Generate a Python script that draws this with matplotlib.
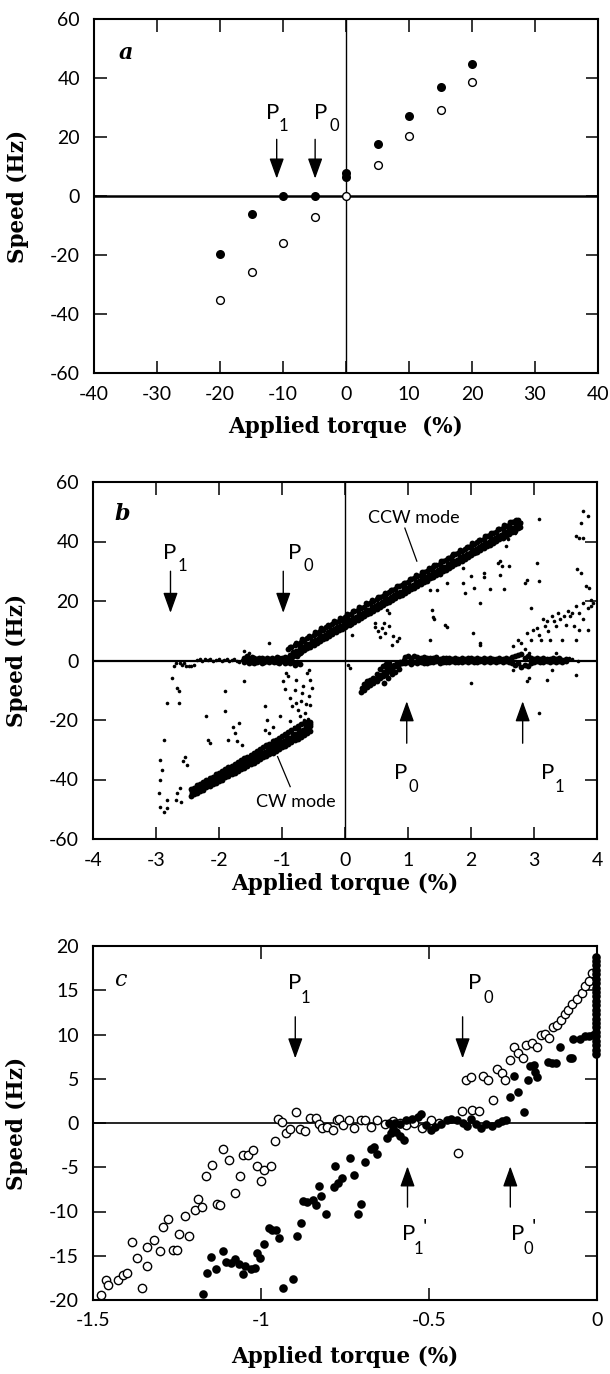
import matplotlib
matplotlib.use('Agg')
import matplotlib.pyplot as plt

plt.rcParams['axes.unicode_minus'] = False

# ---------------- Panel a data ----------------
a_x_filled = [-20, -15, -10, -5, 0, 0, 5, 10, 15, 20]
a_y_filled = [-19.7, -6.2, 0.0, 0.0, 6.3, 7.9, 17.5, 27.2, 37.0, 44.8]
a_x_open = [-20, -15, -10, -5, 0, 5, 10, 15, 20]
a_y_open = [-35.3, -25.6, -15.8, -7.0, 0.0, 10.5, 20.3, 29.1, 38.8]
a_xticks = [-40, -30, -20, -10, 0, 10, 20, 30, 40]
a_yticks = [-60, -40, -20, 0, 20, 40, 60]

# ---------------- Panel b data ----------------
ccw_x = [-0.90, -0.85, -0.80, -0.75, -0.70, -0.65, -0.60, -0.55, -0.50, -0.45,
         -0.40, -0.35, -0.30, -0.25, -0.20, -0.15, -0.10, -0.05, 0.00, 0.05,
         0.10, 0.15, 0.20, 0.25, 0.30, 0.35, 0.40, 0.45, 0.50, 0.55,
         0.60, 0.65, 0.70, 0.75, 0.80, 0.85, 0.90, 0.95, 1.00, 1.05,
         1.10, 1.15, 1.20, 1.25, 1.30, 1.35, 1.40, 1.45, 1.50, 1.55,
         1.60, 1.65, 1.70, 1.75, 1.80, 1.85, 1.90, 1.95, 2.00, 2.05,
         2.10, 2.15, 2.20, 2.25, 2.30, 2.35, 2.40, 2.45, 2.50, 2.55,
         2.60, 2.65, 2.70, 2.75]
ccw_x2 = [-0.88, -0.83, -0.77, -0.72, -0.68, -0.62, -0.57, -0.53, -0.47, -0.42,
          -0.38, -0.32, -0.27, -0.23, -0.17, -0.12, -0.08, -0.02, 0.03, 0.07,
          0.13, 0.18, 0.22, 0.28, 0.33, 0.37, 0.43, 0.48, 0.52, 0.58,
          0.63, 0.67, 0.73, 0.78, 0.82, 0.88, 0.93, 0.97, 1.03, 1.08,
          1.12, 1.18, 1.23, 1.27, 1.33, 1.38, 1.42, 1.48, 1.53, 1.57,
          1.63, 1.68, 1.72, 1.78, 1.83, 1.87, 1.93, 1.98, 2.02, 2.08,
          2.13, 2.17, 2.23, 2.28, 2.32, 2.38, 2.43, 2.47, 2.53, 2.58,
          2.62, 2.67, 2.72, 2.77]
ccw_hi = [3.8, 4.5, 5.1, 5.5, 6.3, 6.8, 7.5, 8.0, 8.7, 9.1,
          9.9, 10.3, 11.1, 11.5, 12.3, 12.8, 13.4, 14.1, 14.6, 15.3,
          15.7, 16.5, 17.0, 17.7, 18.1, 18.9, 19.4, 20.1, 20.6, 21.3,
          21.7, 22.5, 23.0, 23.7, 24.1, 24.9, 25.4, 26.1, 26.5, 27.3,
          27.8, 28.5, 28.9, 29.7, 30.2, 30.9, 31.3, 32.1, 32.6, 33.3,
          33.7, 34.5, 35.0, 35.7, 36.1, 36.9, 37.4, 38.1, 38.5, 39.3,
          39.8, 40.5, 40.9, 41.7, 42.2, 42.9, 43.3, 44.1, 44.6, 45.3,
          45.7, 46.5, 47.0, 47.3]
ccw_mid = [2.0, 2.9, 3.3, 4.2, 4.5, 5.4, 5.7, 6.6, 7.0, 7.5,
           8.3, 8.7, 9.5, 10.1, 10.5, 11.3, 11.7, 12.5, 13.0, 13.5,
           14.3, 14.7, 15.5, 15.9, 16.7, 17.1, 17.9, 18.3, 19.1, 19.5,
           20.3, 20.7, 21.5, 21.9, 22.7, 23.1, 23.9, 24.3, 25.1, 25.5,
           26.3, 26.7, 27.5, 27.9, 28.7, 29.1, 29.9, 30.3, 31.1, 31.5,
           32.3, 32.7, 33.5, 33.9, 34.7, 35.1, 35.9, 36.3, 37.1, 37.5,
           38.3, 38.7, 39.5, 39.9, 40.7, 41.1, 41.9, 42.3, 43.1, 43.5,
           44.3, 44.7, 45.5, 46.1]
ccw_lo = [0.6, 1.2, 1.8, 2.3, 3.0, 3.5, 4.1, 4.7, 5.3, 6.0,
          6.4, 7.2, 7.7, 8.4, 8.9, 9.5, 10.2, 10.6, 11.3, 11.9,
          12.4, 13.1, 13.7, 14.4, 14.8, 15.6, 16.1, 16.8, 17.2, 18.0,
          18.5, 19.2, 19.6, 20.4, 20.9, 21.6, 22.0, 22.8, 23.3, 24.0,
          24.4, 25.2, 25.7, 26.4, 26.8, 27.6, 28.1, 28.8, 29.2, 30.0,
          30.5, 31.2, 31.6, 32.4, 32.9, 33.6, 34.0, 34.8, 35.3, 36.0,
          36.4, 37.2, 37.7, 38.4, 38.8, 39.6, 40.1, 40.8, 41.2, 42.0,
          42.5, 43.2, 43.6, 44.6]
ccw_edge = [4.6, 1.9, 5.9, 2.9, 7.2, 4.2, 8.4, 5.6, 9.6, 6.6,
            10.8, 7.9, 12.0, 9.1, 13.2, 10.3, 14.4, 11.4, 15.6, 12.6,
            16.8, 13.8, 18.0, 14.9, 19.2, 16.1, 20.4, 17.4, 21.5, 18.6,
            22.6, 19.8, 23.8, 21.0, 25.0, 22.3, 26.2, 23.4, 27.4, 24.6,
            28.6, 25.8, 29.8, 27.0, 31.0, 28.2, 32.2, 29.4, 33.4, 30.6,
            34.6, 31.8, 35.8, 33.0, 37.0, 34.2, 38.2, 35.4, 39.4, 36.6,
            40.6, 37.8, 41.8, 39.0, 43.0, 40.2, 44.2, 41.4, 45.4, 42.6,
            46.4, 43.8, 47.2, 45.0]

cw_x = [-2.45, -2.40, -2.35, -2.30, -2.25, -2.20, -2.15, -2.10, -2.05, -2.00,
        -1.95, -1.90, -1.85, -1.80, -1.75, -1.70, -1.65, -1.60, -1.55, -1.50,
        -1.45, -1.40, -1.35, -1.30, -1.25, -1.20, -1.15, -1.10, -1.05, -1.00,
        -0.95, -0.90, -0.85, -0.80, -0.75, -0.70, -0.65, -0.60, -0.55]
cw_x2 = [-2.43, -2.38, -2.32, -2.27, -2.23, -2.17, -2.12, -2.08, -2.02, -1.97,
         -1.93, -1.87, -1.82, -1.78, -1.72, -1.67, -1.63, -1.57, -1.52, -1.48,
         -1.42, -1.37, -1.33, -1.27, -1.22, -1.18, -1.12, -1.07, -1.03, -0.97,
         -0.92, -0.88, -0.82, -0.77, -0.73, -0.67, -0.62, -0.58, -0.56]
cw_hi = [-43.3, -42.8, -42.0, -41.4, -40.8, -40.3, -39.6, -39.0, -38.3, -37.8,
         -37.0, -36.5, -35.9, -35.4, -34.7, -34.2, -33.5, -32.9, -32.3, -31.7,
         -31.0, -30.4, -29.8, -29.2, -28.5, -27.9, -27.2, -26.6, -26.0, -25.3,
         -24.7, -24.0, -23.4, -22.7, -22.1, -21.5, -20.9, -20.6, -20.8]
cw_mid = [-44.5, -43.7, -43.4, -42.5, -42.2, -41.3, -41.0, -40.1, -39.8, -38.9,
          -38.6, -37.7, -37.5, -36.6, -36.3, -35.4, -35.1, -34.2, -33.9, -33.0,
          -32.7, -31.8, -31.5, -30.6, -30.3, -29.4, -29.1, -28.3, -28.0, -27.1,
          -26.8, -25.9, -25.6, -24.7, -24.4, -23.5, -23.2, -22.3, -22.0]
cw_lo = [-45.4, -44.8, -44.5, -43.8, -43.4, -42.6, -42.3, -41.6, -41.1, -40.4,
         -40.0, -39.3, -38.9, -38.2, -37.8, -37.1, -36.6, -36.0, -35.5, -34.8,
         -34.4, -33.7, -33.2, -32.5, -32.1, -31.4, -31.0, -30.3, -29.8, -29.1,
         -28.7, -28.0, -27.5, -26.8, -26.4, -25.7, -25.2, -24.5, -23.8]
cw_edge = [-44.0, -44.2, -42.7, -43.1, -41.5, -42.0, -40.2, -40.8, -39.1, -39.6,
           -37.8, -38.4, -36.7, -37.2, -35.5, -36.0, -34.3, -34.9, -33.1, -33.7,
           -31.9, -32.5, -30.6, -31.3, -29.4, -30.2, -28.2, -29.0, -27.0, -27.9,
           -25.8, -26.7, -24.6, -25.6, -23.3, -24.4, -22.2, -23.3, -21.5]

lzero_sparse_x = [-2.62, -2.58, -2.55, -2.52, -2.48, -2.45, -2.40, -2.35, -2.30, -2.27,
                  -2.22, -2.18, -2.14, -2.10, -2.05, -2.00, -1.96, -1.92, -1.88, -1.84,
                  -1.80, -1.76, -1.72, -1.68, -1.64]
lzero_sparse_y = [-1.0, -1.6, -0.8, -1.8, -1.7, -1.9, -1.5, 0.2, 0.4, -0.3,
                  0.5, 0.1, 0.6, -0.2, 0.3, 0.5, -0.1, 0.3, 0.4, -0.3,
                  0.2, 0.6, 0.0, -0.4, 0.3]
lzero_x = [-1.60, -1.56, -1.52, -1.48, -1.44, -1.40, -1.36, -1.32, -1.28, -1.24,
           -1.20, -1.16, -1.12, -1.08, -1.04, -1.00, -0.96, -0.92, -0.88, -0.84,
           -0.80, -0.76, -0.72]
lzero_hi = [0.9, 1.5, 0.6, 1.2, 0.8, 0.5, 1.0, 0.7, 0.4, 0.9,
            0.6, 0.8, 0.5, 1.1, 0.7, 0.9, 1.3, 1.0, 1.6, 1.2,
            2.0, 1.5, 2.4]
lzero_lo = [-0.6, -0.3, -0.9, -0.4, -0.7, -0.5, -0.2, -0.8, -0.4, -0.3,
            -0.6, -0.2, -0.5, -0.4, -0.7, -0.3, -0.8, -0.5, -1.0, -0.6,
            -1.4, -0.9, -1.2]

rbranch_x = [0.25, 0.27, 0.30, 0.32, 0.35, 0.37, 0.40, 0.42, 0.45, 0.47,
             0.50, 0.52, 0.55, 0.57, 0.60, 0.62, 0.65, 0.67, 0.70, 0.72,
             0.75, 0.77, 0.80, 0.82, 0.85, 0.87, 0.90, 0.93, 0.60, 0.65,
             0.70, 0.55, 0.50, 0.45, 0.40, 0.35, 0.30, 0.62, 0.68, 0.75,
             0.80, 0.85]
rbranch_y = [-10.5, -9.2, -10.0, -8.8, -9.0, -7.8, -8.3, -7.0, -7.5, -6.2,
             -6.8, -5.5, -6.0, -4.8, -5.2, -3.9, -4.4, -3.0, -3.6, -2.2,
             -2.8, -1.5, -2.0, -0.9, -1.3, -0.4, -0.8, 0.1, -1.8, -1.2,
             -0.8, -3.0, -4.5, -5.8, -6.5, -7.0, -8.0, -7.5, -6.0, -4.5,
             -3.8, -3.0]

rzero_x = [0.95, 1.00, 1.05, 1.10, 1.15, 1.20, 1.25, 1.30, 1.35, 1.40,
           1.45, 1.50, 1.55, 1.60, 1.65, 1.70, 1.75, 1.80, 1.85, 1.90,
           1.95, 2.00, 2.05, 2.10, 2.15, 2.20, 2.25, 2.30, 2.35, 2.40,
           2.45, 2.50, 2.55, 2.60, 2.65, 2.70, 2.75, 2.80, 2.85, 2.90,
           2.95, 3.00, 3.05, 3.10, 3.15, 3.20, 3.25, 3.30, 3.35, 3.40,
           3.45, 3.50]
rzero_hi = [1.2, 1.6, 0.9, 1.4, 1.1, 0.8, 1.3, 0.7, 1.0, 0.9,
            1.2, 0.6, 0.9, 0.7, 1.0, 0.5, 0.8, 0.6, 0.9, 0.5,
            0.7, 0.8, 0.4, 0.7, 0.6, 0.8, 0.5, 0.7, 0.4, 0.6,
            0.8, 0.5, 0.7, 0.6, 1.2, 1.5, 1.8, 2.2, 1.0, 1.4,
            0.9, 0.6, 0.8, 0.5, 0.7, 0.6, 0.4, 0.8, 0.5, 0.7,
            0.3, 0.6]
rzero_lo = [-0.8, -0.4, -1.1, -0.6, -0.9, -0.5, -0.7, -0.8, -0.4, -0.6,
            -0.3, -0.7, -0.5, -0.4, -0.6, -0.3, -0.5, -0.4, -0.6, -0.2,
            -0.5, -0.3, -0.4, -0.6, -0.2, -0.4, -0.3, -0.5, -0.2, -0.4,
            -0.3, -0.5, -0.2, -0.6, -1.0, -1.4, -0.8, -2.2, -1.5, -1.8,
            -0.9, -0.5, -0.3, -0.6, -0.4, -0.2, -0.5, -0.3, -0.6, -0.2,
            -0.4, -0.3]

bscat_left_x = [-2.88, -2.93, -2.91, -2.94, -2.95, -2.94, -2.88, -2.82, -2.83, -2.75,
                -2.83, -2.66, -2.63, -2.64, -2.69, -2.72, -2.54, -2.51, -2.57, -2.66,
                -2.62, -2.69, -2.60, -2.20, -2.17, -2.14, -1.90, -1.90, -1.86, -1.77,
                -1.74, -1.71, -1.64, -1.69, -1.61, -1.27, -1.24, -1.27, -1.21, -1.15,
                -1.03, -0.93, -0.90, -0.87, -0.84, -0.78, -0.75, -0.72, -0.69, -0.66,
                -0.60, -0.57, -0.53, -0.57, -0.63, -0.81, -0.87, -0.93, -1.15, -0.78,
                -1.21, -1.61, -1.52, -0.98, -0.95, -0.62, -0.65, -0.70, -0.80, -0.55,
                -0.56, -0.58]
bscat_left_y = [-26.7, -33.4, -36.8, -40.1, -44.6, -49.1, -50.8, -49.7, -46.9, -5.9,
                -14.3, -9.3, -10.4, -14.3, -0.8, -2.0, -32.3, -35.1, -33.9, -44.6,
                -42.9, -46.9, -47.4, -18.8, -26.7, -27.8, -10.4, -17.1, -26.7, -22.2,
                -24.4, -27.2, -28.4, -21.0, -7.0, -15.4, -19.9, -23.3, -24.4, -26.7,
                -18.8, -4.2, -5.3, -12.6, -15.4, -14.3, -16.6, -18.8, -10.9, -8.7,
                -4.2, -3.1, -9.3, -12.0, -17.7, -22.2, -20.5, -26.1, -22.2, -6.5,
                5.9, 3.1, 2.5, -7.0, -9.5, -14.5, -20.0, -13.5, -10.0, -6.5,
                -15.0, -19.5]
bscat_right_x = [0.08, 0.11, 0.48, 0.52, 0.58, 0.64, 0.70, 0.76, 0.82, 0.67,
                 0.70, 1.38, 1.41, 1.35, 1.59, 1.87, 1.90, 2.00, 2.15, 2.03,
                 2.15, 2.21, 2.30, 2.43, 2.49, 2.46, 2.55, 2.58, 2.61, 2.52,
                 2.86, 2.89, 3.08, 3.04, 3.08, 2.95, 3.04, 3.78, 3.85, 3.75,
                 3.66, 3.72, 3.78, 3.69, 3.75, 3.82, 3.88, 3.91, 3.85, 3.78,
                 3.60, 3.45, 2.67, 2.74, 2.80, 2.86, 2.89, 2.95, 2.98, 3.08,
                 3.11, 3.17, 3.20, 3.23, 3.29, 3.32, 3.35, 3.38, 3.42, 3.48,
                 3.51, 3.54, 3.57, 3.63, 3.66, 3.72, 3.78, 3.85, 3.91, 3.94,
                 3.66, 3.72, 3.26, 3.35, 2.92, 3.14, 2.00, 2.67, 2.89, 2.92,
                 3.08, 3.20, 3.66, 3.29, 0.05, 0.08, 2.80, 2.70, 3.60, 3.70,
                 3.55, 1.35, 1.46, 1.62, 1.88, 2.04, 2.20, 2.46, 1.40, 1.62,
                 2.14, 0.48, 0.55, 0.62, 0.75, 0.85]
bscat_right_y = [11.5, 8.7, 12.6, 9.8, 10.9, 9.3, 11.5, 8.1, 6.5, 17.1,
                 16.0, 17.1, 13.8, 7.0, 12.1, 26.1, 22.7, 28.3, 19.4, 9.3,
                 5.9, 29.5, 23.9, 32.8, 31.7, 28.9, 38.4, 40.7, 31.7, 23.9,
                 26.1, 27.2, 47.4, 32.8, 26.7, 17.7, 11.0, 50.2, 48.5, 46.3,
                 41.8, 41.2, 41.2, 30.6, 29.5, 25.0, 24.4, 18.2, 10.4, 13.8,
                 16.0, 7.0, 4.8, 7.0, 5.9, 3.7, 9.3, 7.0, 10.4, 8.7,
                 7.0, 11.5, 13.2, 9.8, 14.9, 13.2, 11.5, 16.0, 13.8, 14.9,
                 12.1, 16.6, 14.9, 11.5, 18.2, 16.0, 19.4, 17.7, 20.5, 19.4,
                 7.0, 10.4, 7.0, 2.5, 2.5, 13.8, -7.6, -3.1, -7.0, -5.9,
                 -17.7, -6.5, -4.8, -3.1, -1.4, -2.5, 46.5, 43.0, 0.5, -0.3,
                 1.0, 23.7, 23.7, 26.0, 31.0, 24.5, 28.0, 33.5, 14.6, 11.3,
                 5.2, 11.3, 8.0, 12.5, 5.2, 7.5]
b_xticks = [-4, -3, -2, -1, 0, 1, 2, 3, 4]
b_yticks = [-60, -40, -20, 0, 20, 40, 60]

# ---------------- Panel c data ----------------
c_open_x = [-1.475, -1.46, -1.454, -1.425, -1.41, -1.398, -1.384, -1.37, -1.355, -1.34,
            -1.338, -1.317, -1.30, -1.292, -1.278, -1.263, -1.249, -1.243, -1.225, -1.213,
            -1.195, -1.187, -1.176, -1.164, -1.147, -1.132, -1.121, -1.114, -1.095, -1.077,
            -1.063, -1.054, -1.04, -1.025, -1.011, -1.00, -0.99, -0.971, -0.958, -0.95,
            -0.938, -0.927, -0.913, -0.895, -0.883, -0.869, -0.855, -0.837, -0.828, -0.819,
            -0.805, -0.787, -0.775, -0.768, -0.755, -0.738, -0.722, -0.701, -0.689, -0.672,
            -0.654, -0.631, -0.608, -0.585, -0.568, -0.544, -0.521, -0.495, -0.469, -0.414,
            -0.402, -0.39, -0.374, -0.371, -0.351, -0.338, -0.324, -0.311, -0.299, -0.284,
            -0.275, -0.258, -0.247, -0.235, -0.22, -0.211, -0.193, -0.18, -0.168, -0.154,
            -0.142, -0.131, -0.118, -0.108, -0.096, -0.085, -0.073, -0.061, -0.046, -0.035,
            -0.023, -0.014]
c_open_y = [-19.4, -17.7, -18.3, -17.7, -17.2, -17.0, -13.4, -15.3, -18.7, -16.2,
            -14.0, -13.2, -14.5, -11.7, -10.8, -14.3, -14.4, -12.5, -10.5, -12.8,
            -9.8, -8.6, -9.5, -6.0, -4.8, -9.2, -9.3, -2.9, -4.2, -7.9,
            -6.0, -3.6, -3.6, -3.0, -4.9, -6.5, -5.3, -4.9, -2.0, 0.4,
            0.1, -1.1, -0.7, 1.2, -0.7, -0.9, 0.6, 0.6, -0.1, -0.6,
            -0.4, -0.8, 0.3, 0.4, -0.2, 0.3, -0.6, 0.3, 0.3, -0.4,
            0.3, -0.1, 0.2, 0.0, -0.2, 0.0, -0.6, 0.3, 0.0, -3.4,
            1.4, 4.9, 5.2, 1.5, 1.3, 5.3, 4.9, 2.6, 6.1, 5.6,
            4.9, 7.1, 8.6, 7.9, 7.4, 8.8, 9.0, 8.6, 9.9, 10.1,
            9.6, 10.8, 11.1, 11.6, 12.3, 12.8, 13.4, 14.0, 14.7, 15.5,
            16.0, 16.9]
c_fill_x = [-1.173, -1.16, -1.149, -1.133, -1.112, -1.103, -1.089, -1.077, -1.066, -1.054,
            -1.048, -1.031, -1.019, -1.013, -1.004, -0.99, -0.975, -0.967, -0.956, -0.946,
            -0.935, -0.906, -0.892, -0.88, -0.875, -0.863, -0.846, -0.837, -0.828, -0.822,
            -0.807, -0.784, -0.78, -0.77, -0.759, -0.736, -0.724, -0.712, -0.701, -0.689,
            -0.672, -0.664, -0.654, -0.626, -0.614, -0.606, -0.597, -0.585, -0.573, -0.62,
            -0.602, -0.585, -0.568, -0.55, -0.533, -0.525, -0.51, -0.495, -0.481, -0.463,
            -0.446, -0.434, -0.417, -0.40, -0.388, -0.374, -0.359, -0.344, -0.33, -0.313,
            -0.295, -0.284, -0.272, -0.218, -0.258, -0.234, -0.247, -0.206, -0.20, -0.185,
            -0.18, -0.188, -0.145, -0.133, -0.122, -0.11, -0.081, -0.075, -0.07, -0.052,
            -0.035, -0.023, -0.012]
c_fill_y = [-19.3, -17.0, -15.1, -16.5, -14.5, -15.7, -15.8, -15.4, -15.9, -17.1,
            -16.2, -16.5, -16.4, -14.7, -15.3, -13.7, -11.9, -12.1, -12.1, -13.0,
            -18.7, -17.6, -12.8, -11.3, -8.8, -8.9, -8.7, -9.3, -7.1, -8.2,
            -10.3, -7.2, -4.9, -6.8, -6.2, -4.0, -5.9, -10.3, -9.2, -4.4,
            -2.9, -2.7, -3.5, -1.7, -1.1, -0.7, -1.0, -1.5, -1.9, 0.0,
            0.0, -0.1, 0.3, 0.5, 0.7, 1.0, -0.2, -0.8, -0.5, -0.1,
            0.3, 0.5, 0.3, 0.0, -0.3, 0.4, -0.1, -0.6, -0.1, -0.3,
            0.0, 0.2, 0.3, 1.2, 2.9, 3.5, 5.3, 4.9, 6.4, 5.8,
            5.2, 6.5, 6.9, 6.8, 6.8, 8.6, 7.3, 7.3, 9.5, 9.5,
            9.8, 9.8, 9.9]
c_stack_x = [-0.003, -0.003, -0.003, -0.003, -0.003, -0.003, -0.003, -0.003, -0.003, -0.003,
             -0.003, -0.003, -0.003, -0.003, -0.003, -0.003, -0.003, -0.003, -0.003, -0.003,
             -0.003, -0.003, -0.003]
c_stack_y = [7.8, 8.3, 8.8, 9.3, 9.8, 10.3, 10.8, 11.3, 11.8, 12.3,
             12.8, 13.3, 13.8, 14.3, 14.8, 15.3, 15.8, 16.3, 16.8, 17.3,
             17.8, 18.3, 18.8]
c_xticks = [-1.5, -1.0, -0.5, 0.0]
c_xticklabels = ['-1.5', '-1', '-0.5', '0']
c_yticks = [-20, -15, -10, -5, 0, 5, 10, 15, 20]

# ---------------- Styling ----------------
TICKFONT = 'Lato'
SERIF = 'DejaVu Serif'
W, H = 610, 1374

fig = plt.figure(figsize=(W / 100, H / 100), dpi=100)
ax_a = fig.add_axes([94 / W, 1 - 373 / H, 504 / W, 354 / H])
ax_b = fig.add_axes([93 / W, 1 - 839 / H, 504 / W, 357 / H])
ax_c = fig.add_axes([93 / W, 1 - 1300 / H, 504 / W, 354 / H])


def style(ax, xlim, ylim, xticks, yticks, xlabel, xlab_y, xticklabels=None):
    ax.set_xlim(xlim)
    ax.set_ylim(ylim)
    ax.set_xticks(xticks)
    ax.set_yticks(yticks)
    if xticklabels is not None:
        ax.set_xticklabels(xticklabels)
    ax.tick_params(direction='in', length=9, width=1.1, top=True, right=True,
                   labelsize=14, colors='black')
    ax.tick_params(axis='x', pad=9)
    ax.tick_params(axis='y', pad=10)
    for lab in ax.get_xticklabels() + ax.get_yticklabels():
        lab.set_fontfamily(TICKFONT)
    for s in ax.spines.values():
        s.set_linewidth(1.5)
    ax.set_xlabel(xlabel, fontfamily=SERIF, fontweight='bold', fontsize=15.5)
    ax.set_ylabel('Speed (Hz)', fontfamily=SERIF, fontweight='bold', fontsize=15.5)
    ax.xaxis.set_label_coords(0.5, xlab_y)
    ax.yaxis.set_label_coords(-0.128, 0.5)


def arrow(ax, x, y_tail, y_tip):
    ax.annotate('', xy=(x, y_tip), xytext=(x, y_tail),
                arrowprops=dict(arrowstyle='-|>,head_length=1.25,head_width=0.45',
                                color='black', lw=1.0, shrinkA=0, shrinkB=0,
                                mutation_scale=10))


def plabel(ax, xp, yp, xs, ys, sub, prime=None):
    ax.text(xp, yp, 'P', fontfamily=TICKFONT, fontsize=16, ha='center', va='center')
    ax.text(xs, ys, sub, fontfamily=TICKFONT, fontsize=12, ha='center', va='center')
    if prime is not None:
        ax.text(prime[0], prime[1], "'", fontfamily=TICKFONT, fontsize=15,
                ha='center', va='center')


# ---- Panel a ----
ax = ax_a
style(ax, (-40, 40), (-60, 60), a_xticks, a_yticks, 'Applied torque  (%)', -0.12)
ax.axhline(0, color='black', lw=1.8, zorder=1)
ax.axvline(0, color='black', lw=1.0, zorder=1)
ax.plot(a_x_filled, a_y_filled, 'o', color='black', ms=6.5, mew=0, zorder=3)
ax.plot(a_x_open, a_y_open, 'o', mfc='white', mec='black', ms=5.6, mew=1.0, zorder=2)
ax.text(-35, 48.5, 'a', fontfamily=SERIF, fontweight='bold', fontstyle='italic',
        fontsize=16, ha='center', va='center')
arrow(ax, -11.0, 19.2, 5.9)
arrow(ax, -4.9, 19.2, 5.9)
plabel(ax, -11.6, 28.2, -9.9, 23.7, '1')
plabel(ax, -4.05, 28.2, -1.9, 23.7, '0')

# ---- Panel b ----
ax = ax_b
style(ax, (-4, 4), (-60, 60), b_xticks, b_yticks, 'Applied torque (%)', -0.095)
ax.axhline(0, color='black', lw=1.6, zorder=1)
ax.axvline(0, color='black', lw=1.0, zorder=1)
band = dict(marker='o', linestyle='none', color='black', ms=4.2, mew=0, zorder=2)
dot = dict(marker='o', linestyle='none', color='black', ms=2.6, mew=0, zorder=2)
ax.plot(ccw_x, ccw_hi, **band)
ax.plot(ccw_x2, ccw_mid, **band)
ax.plot(ccw_x, ccw_lo, **band)
ax.plot(ccw_x2, ccw_edge, **band)
ax.plot(cw_x, cw_hi, **band)
ax.plot(cw_x2, cw_mid, **band)
ax.plot(cw_x, cw_lo, **band)
ax.plot(cw_x2, cw_edge, **band)
ax.plot(lzero_sparse_x, lzero_sparse_y, **dot)
ax.plot(lzero_x, lzero_hi, **band)
ax.plot(lzero_x, lzero_lo, **band)
ax.plot(rbranch_x, rbranch_y, **band)
ax.plot(rzero_x, rzero_hi, **band)
ax.plot(rzero_x, rzero_lo, **band)
ax.plot(bscat_left_x, bscat_left_y, **dot)
ax.plot(bscat_right_x, bscat_right_y, **dot)
ax.text(-3.53, 49.1, 'b', fontfamily=SERIF, fontweight='bold', fontstyle='italic',
        fontsize=16, ha='center', va='center')
arrow(ax, -2.77, 30, 16)
arrow(ax, -0.98, 30, 16)
arrow(ax, 0.98, -27.8, -13.7)
arrow(ax, 2.82, -27.8, -13.7)
plabel(ax, -2.79, 36.2, -2.58, 31.7, '1')
plabel(ax, -0.80, 36.2, -0.59, 31.7, '0')
plabel(ax, 0.89, -37.9, 1.08, -42.4, '0')
plabel(ax, 3.22, -37.9, 3.41, -42.4, '1')
ax.text(1.10, 48.0, 'CCW mode', fontfamily=TICKFONT, fontsize=13, ha='center', va='center')
ax.plot([0.95, 1.14], [44.5, 33.4], color='black', lw=0.9)
ax.text(-0.78, -47.4, 'CW mode', fontfamily=TICKFONT, fontsize=13, ha='center', va='center')
ax.plot([-1.07, -0.87], [-32.3, -42.4], color='black', lw=0.9)

# ---- Panel c ----
ax = ax_c
style(ax, (-1.5, 0), (-20, 20), c_xticks, c_yticks, 'Applied torque (%)', -0.13,
      xticklabels=c_xticklabels)
ax.axhline(0, color='black', lw=1.2, zorder=1)
ax.plot(c_open_x, c_open_y, 'o', mfc='white', mec='black', ms=6.0, mew=1.0,
        zorder=2, clip_on=False)
ax.plot(c_fill_x, c_fill_y, 'o', color='black', ms=6.2, mew=0, zorder=3, clip_on=False)
ax.plot(c_stack_x, c_stack_y, 'o', color='black', ms=6.2, mew=0, zorder=3, clip_on=False)
ax.text(-1.419, 16.2, 'c', fontfamily=SERIF, fontstyle='italic', fontsize=16,
        ha='center', va='center')
arrow(ax, -0.898, 12.0, 7.3)
arrow(ax, -0.40, 12.0, 7.3)
arrow(ax, -0.564, -9.5, -4.9)
arrow(ax, -0.258, -9.5, -4.9)
plabel(ax, -0.901, 15.8, -0.869, 14.1, '1')
plabel(ax, -0.363, 15.8, -0.324, 14.1, '0')
plabel(ax, -0.562, -12.5, -0.531, -14.2, '1', prime=(-0.513, -11.9))
plabel(ax, -0.237, -12.5, -0.203, -14.2, '0', prime=(-0.189, -11.9))

fig.savefig('out.png', dpi=100)
